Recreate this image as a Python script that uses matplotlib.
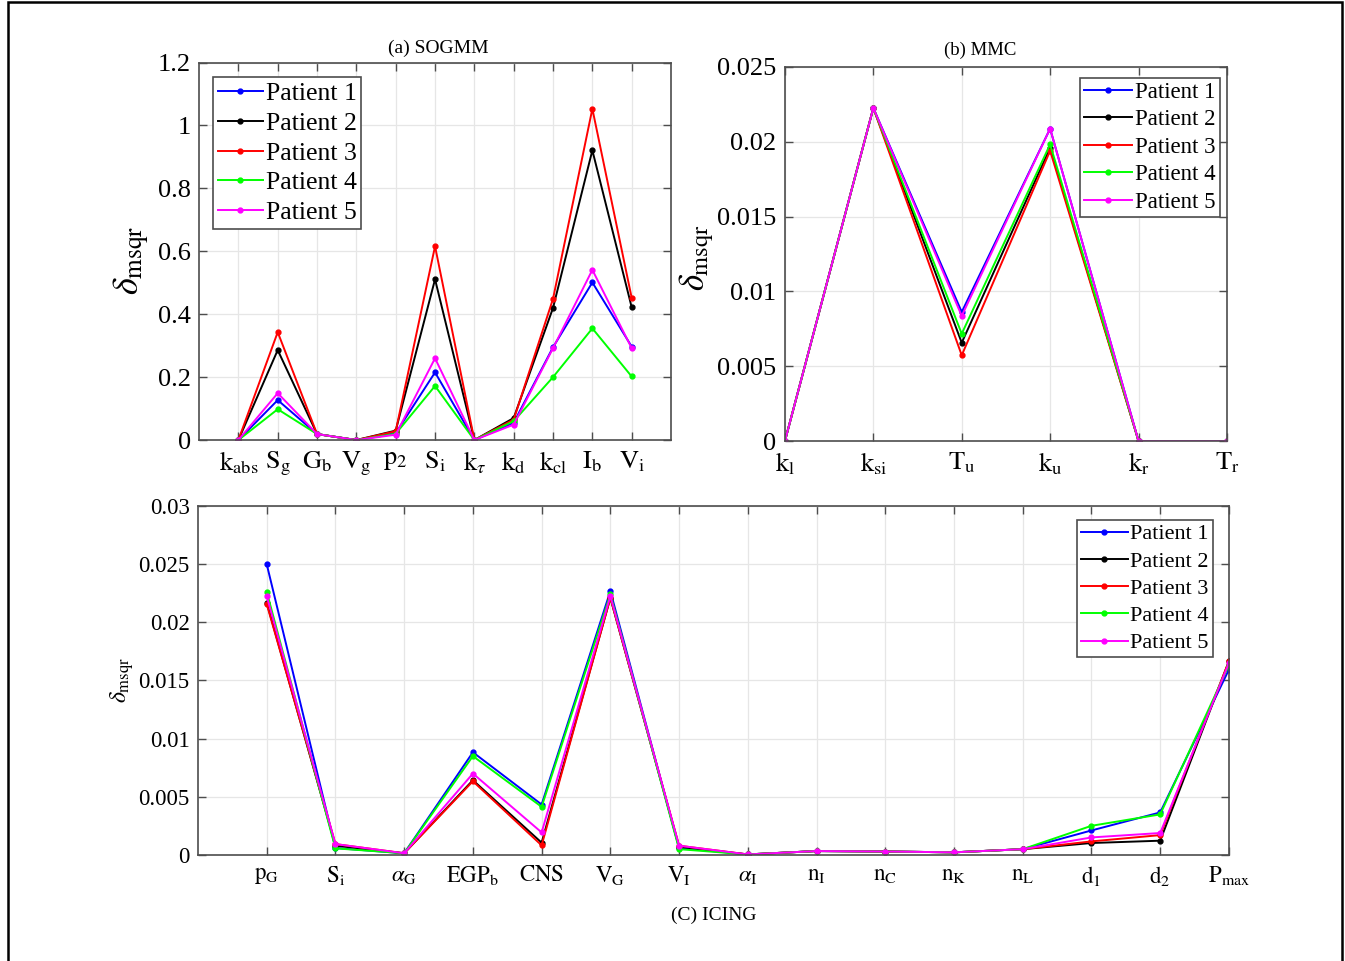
import matplotlib
matplotlib.use('Agg')
import matplotlib.pyplot as plt
from matplotlib.patches import Rectangle
from matplotlib.ticker import FixedLocator, FuncFormatter

plt.rcParams['font.family'] = ['Liberation Serif', 'DejaVu Serif']
plt.rcParams['mathtext.fontset'] = 'stix'

patients = ['Patient 1', 'Patient 2', 'Patient 3', 'Patient 4', 'Patient 5']
colors = ['#0000ff', '#000000', '#ff0000', '#00ff00', '#ff00ff']

# (a) SOGMM parameters
sogmm_params = [r'$\mathrm{k_{abs}}$', r'$\mathrm{S_g}$', r'$\mathrm{G_b}$', r'$\mathrm{V_g}$',
                r'$\mathrm{p_2}$', r'$\mathrm{S_i}$', r'$\mathrm{k}_{\tau}$', r'$\mathrm{k_d}$',
                r'$\mathrm{k_{cl}}$', r'$\mathrm{I_b}$', r'$\mathrm{V_i}$']
sogmm_p1 = [0, 0.127, 0.019, 0, 0.022, 0.215, 0, 0.055, 0.295, 0.501, 0.297]
sogmm_p2 = [0, 0.286, 0.019, 0, 0.030, 0.511, 0, 0.070, 0.420, 0.921, 0.422]
sogmm_p3 = [0, 0.343, 0.019, 0, 0.028, 0.616, 0, 0.065, 0.449, 1.053, 0.452]
sogmm_p4 = [0, 0.098, 0.019, 0, 0.020, 0.172, 0, 0.060, 0.200, 0.355, 0.202]
sogmm_p5 = [0, 0.149, 0.019, 0, 0.017, 0.260, 0, 0.049, 0.292, 0.541, 0.292]
sogmm_yticks = [0, 0.2, 0.4, 0.6, 0.8, 1.0, 1.2]

# (b) MMC parameters
mmc_params = [r'$\mathrm{k_l}$', r'$\mathrm{k_{si}}$', r'$\mathrm{T_u}$',
              r'$\mathrm{k_u}$', r'$\mathrm{k_r}$', r'$\mathrm{T_r}$']
mmc_p1 = [0, 0.02226, 0.00862, 0.02088, 0, 0]
mmc_p2 = [0, 0.02226, 0.00657, 0.01960, 0, 0]
mmc_p3 = [0, 0.02226, 0.00573, 0.01940, 0, 0]
mmc_p4 = [0, 0.02226, 0.00717, 0.01983, 0, 0]
mmc_p5 = [0, 0.02226, 0.00836, 0.02088, 0, 0]
mmc_yticks = [0, 0.005, 0.01, 0.015, 0.02, 0.025]

# (C) ICING parameters
icing_params = [r'$\mathrm{p_G}$', r'$\mathrm{S_i}$', r'$\alpha_{\mathrm{G}}$', r'$\mathrm{EGP_b}$',
                r'$\mathrm{CNS}$', r'$\mathrm{V_G}$', r'$\mathrm{V_I}$', r'$\alpha_{\mathrm{I}}$',
                r'$\mathrm{n_I}$', r'$\mathrm{n_C}$', r'$\mathrm{n_K}$', r'$\mathrm{n_L}$',
                r'$\mathrm{d_1}$', r'$\mathrm{d_2}$', r'$\mathrm{P_{max}}$']
icing_p1 = [0.02500, 0.00060, 0.00015, 0.00883, 0.00434, 0.02269, 0.00060, 0.00005,
            0.00034, 0.00030, 0.00023, 0.00050, 0.00211, 0.00366, 0.01594]
icing_p2 = [0.02170, 0.00080, 0.00015, 0.00643, 0.00106, 0.02210, 0.00070, 0.00005,
            0.00034, 0.00030, 0.00023, 0.00050, 0.00103, 0.00123, 0.01666]
icing_p3 = [0.02157, 0.00094, 0.00015, 0.00634, 0.00083, 0.02210, 0.00080, 0.00005,
            0.00034, 0.00030, 0.00023, 0.00050, 0.00117, 0.00171, 0.01666]
icing_p4 = [0.02263, 0.00057, 0.00015, 0.00850, 0.00414, 0.02240, 0.00050, 0.00005,
            0.00034, 0.00030, 0.00023, 0.00050, 0.00251, 0.00349, 0.01631]
icing_p5 = [0.02226, 0.00094, 0.00015, 0.00700, 0.00194, 0.02226, 0.00080, 0.00005,
            0.00034, 0.00030, 0.00023, 0.00050, 0.00151, 0.00189, 0.01651]
icing_yticks = [0, 0.005, 0.01, 0.015, 0.02, 0.025, 0.03]

AXIS_COLOR = '#4d4d4d'
GRID_COLOR = '#e6e6e6'


def style_axes(ax, xlim, xticks, xlabels, yticks, tick_fs):
    ax.set_xlim(*xlim)
    ax.set_ylim(yticks[0], yticks[-1])
    ax.xaxis.set_major_locator(FixedLocator(xticks))
    ax.set_xticklabels(xlabels)
    ax.yaxis.set_major_locator(FixedLocator(yticks))
    ax.yaxis.set_major_formatter(FuncFormatter(lambda v, p: f'{v:g}'))
    ax.grid(True, color=GRID_COLOR, linewidth=0.9)
    ax.set_axisbelow(True)
    for s in ax.spines.values():
        s.set_color(AXIS_COLOR)
        s.set_linewidth(1.2)
    ax.tick_params(direction='in', length=6, width=1.0, color=AXIS_COLOR,
                   top=True, right=True, labelsize=tick_fs, labelcolor='black')
    ax.tick_params(axis='x', pad=7)
    ax.tick_params(axis='y', pad=6)


def draw_series(ax, xs, series):
    for vals, c, name in zip(series, colors, patients):
        ax.plot(xs, vals, color=c, linewidth=1.4, marker='.', markersize=7, label=name)


def add_legend(ax, loc, anchor, fs, spacing, handle_len):
    leg = ax.legend(loc=loc, bbox_to_anchor=anchor, borderaxespad=0, fontsize=fs,
                    fancybox=False, framealpha=1, edgecolor=AXIS_COLOR,
                    handlelength=handle_len, handletextpad=0.12, labelspacing=spacing,
                    borderpad=0.18, numpoints=1)
    leg.get_frame().set_linewidth(1.2)
    return leg


fig = plt.figure(figsize=(13.45, 9.61), dpi=100)

# (a) SOGMM
ax_a = fig.add_axes([0.1480, 0.5421, 0.3509, 0.3928])
xa = list(range(1, len(sogmm_params) + 1))
draw_series(ax_a, xa, [sogmm_p1, sogmm_p2, sogmm_p3, sogmm_p4, sogmm_p5])
style_axes(ax_a, (0, len(sogmm_params) + 1), xa, sogmm_params, sogmm_yticks, 19)
ax_a.set_title('(a) SOGMM', fontsize=14, x=0.506, pad=7)
ax_a.set_ylabel(r'$\delta_{\mathrm{msqr}}$', fontsize=26)
ax_a.yaxis.set_label_coords(-0.10, 0.477)
add_legend(ax_a, 'upper left', (0.0297, 0.9616), 18.5, 0.27, 1.75)

# (b) MMC
ax_b = fig.add_axes([0.5836, 0.5411, 0.3286, 0.3892])
xb = list(range(1, len(mmc_params) + 1))
draw_series(ax_b, xb, [mmc_p1, mmc_p2, mmc_p3, mmc_p4, mmc_p5])
style_axes(ax_b, (1, len(mmc_params)), xb, mmc_params, mmc_yticks, 19)
ax_b.set_title('(b) MMC', fontsize=13.5, x=0.441, pad=9)
ax_b.set_ylabel(r'$\delta_{\mathrm{msqr}}$', fontsize=25)
ax_b.yaxis.set_label_coords(-0.156, 0.489)
add_legend(ax_b, 'upper right', (0.984, 0.971), 16.5, 0.28, 2.1)

# (C) ICING
ax_c = fig.add_axes([0.1472, 0.1103, 0.7665, 0.3632])
xc = list(range(1, len(icing_params) + 1))
draw_series(ax_c, xc, [icing_p1, icing_p2, icing_p3, icing_p4, icing_p5])
style_axes(ax_c, (0, len(icing_params)), xc, icing_params, icing_yticks, 16.5)
ax_c.set_xlabel('(C) ICING', fontsize=14, labelpad=13)
ax_c.set_ylabel(r'$\delta_{\mathrm{msqr}}$', fontsize=17)
ax_c.yaxis.set_label_coords(-0.060, 0.5)
add_legend(ax_c, 'upper right', (0.9845, 0.960), 16, 0.3, 2.1)

# outer frame around the figure
fig.patches.append(Rectangle((0.0056, -0.02), 0.99254, 1.0174, transform=fig.transFigure,
                             fill=False, edgecolor='black', linewidth=1.8))

fig.savefig('out.png', dpi=100)
